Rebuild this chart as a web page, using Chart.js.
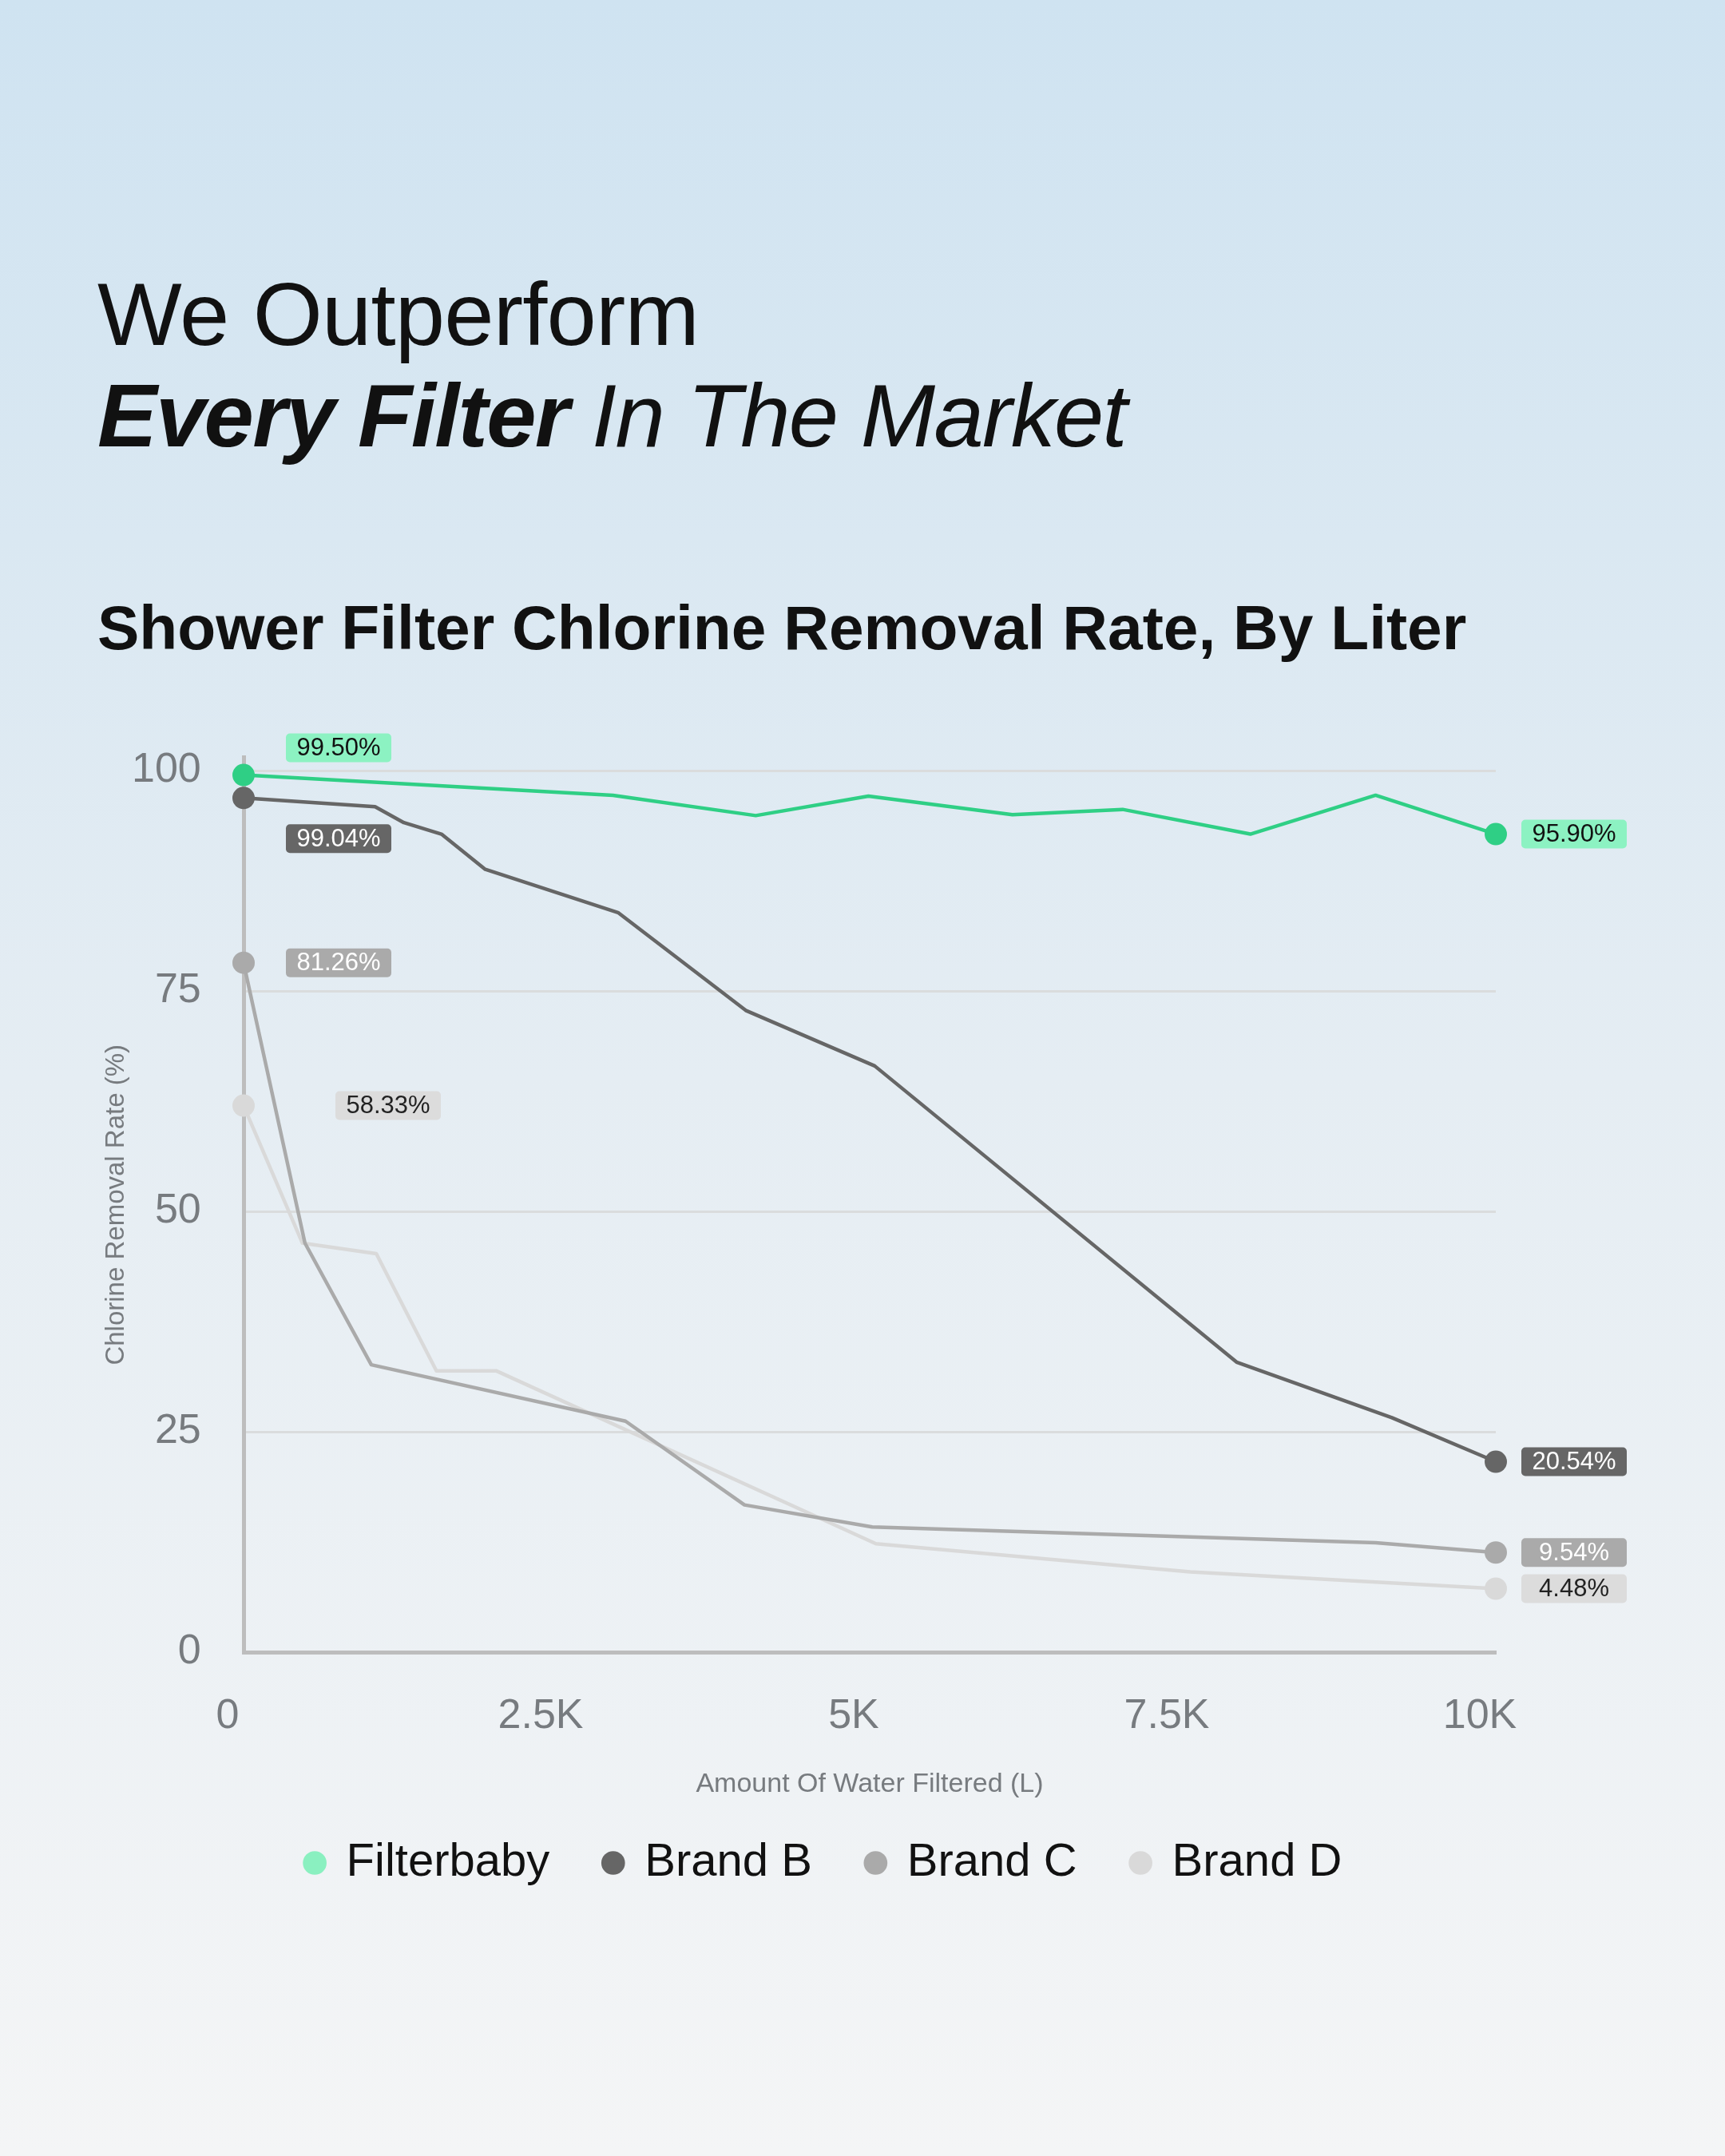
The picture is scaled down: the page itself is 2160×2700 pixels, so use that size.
<!DOCTYPE html>
<html>
<head>
<meta charset="utf-8">
<script src="https://cdn.jsdelivr.net/npm/chart.js@4.4.1/dist/chart.umd.min.js"></script>
<style>
  html, body { margin: 0; padding: 0; }
  body {
    width: 2160px; height: 2700px; position: relative; overflow: hidden;
    background: linear-gradient(180deg, #cfe3f1 0%, #e5edf3 50%, #f4f5f6 100%);
    font-family: "Liberation Sans", Arial, Helvetica, sans-serif;
    color: #111;
  }
  .headline { position: absolute; left: 122px; font-size: 112px; line-height: 112px; white-space: nowrap; }
  .headline.l1 { top: 338px; letter-spacing: -0.8px; }
  .headline.l2 { top: 465px; font-style: italic; letter-spacing: -1.7px; }
  .headline b { font-weight: 700; }
  .subtitle { position: absolute; left: 122px; top: 747px; font-size: 78.5px; line-height: 78px; font-weight: 700; white-space: nowrap; }
  #chart { position: absolute; left: 0; top: 880px; }
</style>
</head>
<body>
<div class="headline l1">We Outperform</div>
<div class="headline l2"><b>Every Filter</b> In The Market</div>
<div class="subtitle">Shower Filter Chlorine Removal Rate, By Liter</div>
<canvas id="chart" width="2160" height="1520"></canvas>

<script>
// values
const seriesNames = ['Filterbaby', 'Brand B', 'Brand C', 'Brand D'];

const filterbabyLiters = [0, 2950, 4090, 4990, 6140, 7020, 8040, 9040, 10000];
const filterbabyRate   = [99.5, 97.2, 94.9, 97.1, 95.0, 95.6, 92.8, 97.2, 92.8];

const brandBLiters = [0, 1050, 1280, 1580, 1930, 2990, 4010, 5040, 7930, 9170, 10000];
const brandBRate   = [96.9, 95.9, 94.1, 92.8, 88.8, 83.9, 72.8, 66.5, 32.9, 26.6, 21.6];

const brandCLiters = [0, 490, 1020, 3050, 4000, 5020, 9040, 10000];
const brandCRate   = [78.2, 46.4, 32.6, 26.2, 16.7, 14.2, 12.4, 11.3];

const brandDLiters = [0, 470, 1060, 1540, 2020, 5050, 7560, 10000];
const brandDRate   = [62.0, 46.4, 45.2, 31.9, 31.9, 12.3, 9.1, 7.2];

const startTags = ['99.50%', '99.04%', '81.26%', '58.33%'];
const endTags   = ['95.90%', '20.54%', '9.54%', '4.48%'];

const xTickValues = [0, 2500, 5000, 7500, 10000];
const xTickLabels = ['0', '2.5K', '5K', '7.5K', '10K'];
const yTickValues = [0, 25, 50, 75, 100];

// styles
const lineColors   = ['#2fcf85', '#666666', '#aaaaaa', '#d9d9d9'];
const legendColors = ['#8af0c0', '#666666', '#aaaaaa', '#d9d9d9'];
const tagBg        = ['#8cf2c2', '#666666', '#aaaaaa', '#dcdcdc'];
const tagFg        = ['#111111', '#ffffff', '#ffffff', '#222222'];
const startTagOffset = [[119, -34], [119, 51], [119, 0], [181, 0]];
const FONT = '"Liberation Sans", Arial, Helvetica, sans-serif';
const GREY_TEXT = '#777b7f';
const PAD_LEFT = 191;
const AXIS_X = 305;       // left edge of the plot area on the page
const Y_LABEL_RIGHT = 252;

Chart.defaults.font.family = FONT;

function toPoints(xs, ys) {
    return xs.map((x, i) => ({ x: x, y: ys[i] }));
}

function makeDataset(i, xs, ys) {
    var n = xs.length;
    return {
        label: seriesNames[i],
        data: toPoints(xs, ys),
        borderColor: lineColors[i],
        backgroundColor: lineColors[i],
        borderWidth: 4.5,
        borderJoinStyle: 'round',
        tension: 0,
        pointRadius: ctx => (ctx.dataIndex === 0 || ctx.dataIndex === n - 1) ? 14 : 0,
        pointHoverRadius: 14,
        pointBorderWidth: 0,
        pointBackgroundColor: lineColors[i],
        clip: false
    };
}

function roundRect(ctx, x, y, w, h, r) {
    ctx.beginPath();
    ctx.moveTo(x + r, y);
    ctx.arcTo(x + w, y, x + w, y + h, r);
    ctx.arcTo(x + w, y + h, x, y + h, r);
    ctx.arcTo(x, y + h, x, y, r);
    ctx.arcTo(x, y, x + w, y, r);
    ctx.closePath();
}

function drawTag(ctx, text, cx, cy, bg, fg) {
    var w = 132, h = 36;
    ctx.save();
    ctx.fillStyle = bg;
    roundRect(ctx, cx - w / 2, cy - h / 2, w, h, 5);
    ctx.fill();
    ctx.fillStyle = fg;
    ctx.font = '31px ' + FONT;
    ctx.textAlign = 'center';
    ctx.textBaseline = 'middle';
    ctx.fillText(text, cx, cy + 1);
    ctx.restore();
}

// value tags next to the first and last point of each line
const valueTags = {
    id: 'valueTags',
    afterDatasetsDraw(chart) {
        var ctx = chart.ctx;
        chart.data.datasets.forEach(function (ds, i) {
            var pts = chart.getDatasetMeta(i).data;
            var first = pts[0], last = pts[pts.length - 1];
            drawTag(ctx, startTags[i], first.x + startTagOffset[i][0], first.y + startTagOffset[i][1], tagBg[i], tagFg[i]);
            drawTag(ctx, endTags[i], last.x + 32 + 66, last.y, tagBg[i], tagFg[i]);
        });
    }
};

new Chart(document.getElementById('chart'), {
    type: 'line',
    data: {
        datasets: [
            makeDataset(0, filterbabyLiters, filterbabyRate),
            makeDataset(1, brandBLiters, brandBRate),
            makeDataset(2, brandCLiters, brandCRate),
            makeDataset(3, brandDLiters, brandDRate)
        ]
    },
    plugins: [valueTags],
    options: {
        responsive: false,
        animation: false,
        devicePixelRatio: 1,
        layout: { padding: { left: PAD_LEFT, right: 2160 - 1873, top: 68.5, bottom: 28 } },
        plugins: {
            tooltip: { enabled: false },
            legend: {
                position: 'bottom',
                labels: {
                    usePointStyle: true,
                    boxWidth: 21,
                    boxHeight: 21,
                    padding: 69,
                    color: '#111',
                    font: { size: 58, family: FONT },
                    generateLabels: function (chart) {
                        var items = Chart.defaults.plugins.legend.labels.generateLabels(chart);
                        items.forEach(function (it, i) {
                            it.fillStyle = legendColors[i];
                            it.strokeStyle = legendColors[i];
                            it.lineWidth = 0;
                            it.pointStyle = 'circle';
                        });
                        return items;
                    }
                }
            }
        },
        scales: {
            x: {
                type: 'linear',
                min: xTickValues[0],
                max: xTickValues[xTickValues.length - 1],
                afterBuildTicks: s => { s.ticks = xTickValues.map(v => ({ value: v })); },
                afterFit: s => { s.height = 166; },
                grid: { display: false },
                border: { display: true, color: '#bdbdbd', width: 5 },
                ticks: {
                    padding: 41,
                    labelOffset: -20,
                    color: GREY_TEXT,
                    font: { size: 52 },
                    maxRotation: 0,
                    autoSkip: false,
                    callback: v => xTickLabels[xTickValues.indexOf(v)]
                },
                title: {
                    display: true,
                    text: 'Amount Of Water Filtered (L)',
                    color: GREY_TEXT,
                    font: { size: 34 },
                    padding: { top: 0, bottom: -20 }
                }
            },
            y: {
                min: 0,
                max: 101.5,
                afterBuildTicks: s => { s.ticks = yTickValues.map(v => ({ value: v })); },
                afterFit: s => { s.width = AXIS_X - PAD_LEFT; },
                grid: { color: '#dadcdd', lineWidth: 3, drawTicks: false },
                border: { display: true, color: '#bdbdbd', width: 5 },
                ticks: {
                    // right-aligned labels ending at Y_LABEL_RIGHT
                    mirror: true,
                    crossAlign: 'far',
                    padding: -140,
                    color: GREY_TEXT,
                    font: { size: 52 }
                },
                title: {
                    display: true,
                    text: 'Chlorine Removal Rate (%)',
                    color: GREY_TEXT,
                    font: { size: 33 },
                    padding: { top: 146 - PAD_LEFT - 19.8, bottom: 0 }
                }
            }
        }
    }
});
</script>
</body>
</html>
